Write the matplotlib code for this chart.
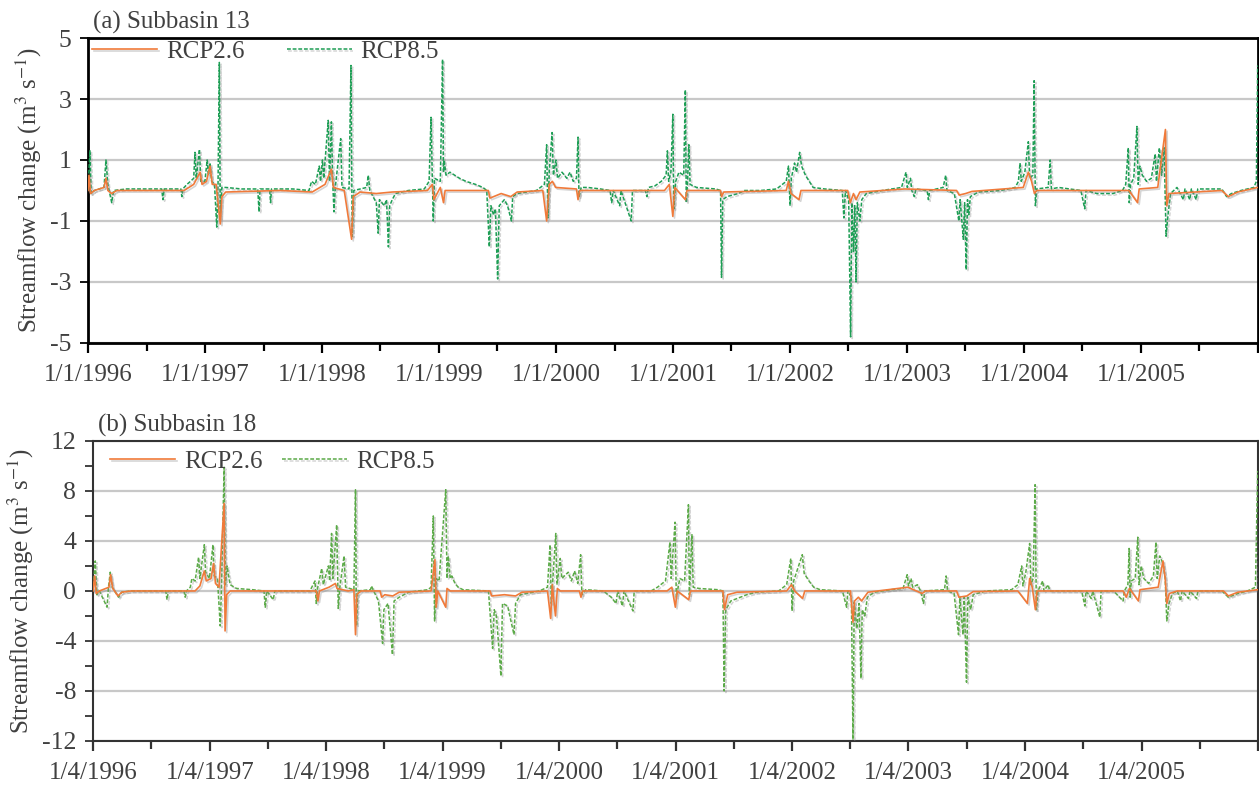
import numpy as np
import matplotlib
matplotlib.use("Agg")
import matplotlib.pyplot as plt
import matplotlib.patheffects as pe
from matplotlib.ticker import MultipleLocator

# daily streamflow change, (day since start, m3/s) key points per scenario
# (a) Subbasin 13
a_rcp26 = [(0, 0.0), (3, 0.5), (8, -0.1), (20, 0.0), (50, 0.1), (56, 0.4), (62, 0.0), (74, -0.1),
           (90, 0.0), (300, 0.0), (330, 0.2), (350, 0.6), (356, 0.2), (370, 0.3), (381, 0.8),
           (388, 0.2), (400, 0.2), (413, -1.1), (418, -0.2), (430, -0.05), (600, 0.0), (700, -0.05),
           (740, 0.2), (760, 0.7), (766, 0.1), (800, 0.0), (823, -1.6), (828, -0.2), (850, -0.05),
           (900, -0.1), (950, -0.05), (1060, 0.0), (1075, 0.2), (1080, -0.3), (1100, 0.1),
           (1110, -0.4), (1115, 0.0), (1250, 0.0), (1255, -0.25), (1290, -0.1), (1320, -0.2),
           (1340, -0.05), (1420, 0.0), (1432, -1.0), (1440, 0.2), (1450, 0.3), (1460, 0.1),
           (1525, 0.05), (1530, -0.3), (1535, 0.0), (1800, 0.0), (1815, 0.2), (1826, -0.85),
           (1832, 0.1), (1865, -0.3), (1870, 0.0), (1975, 0.0), (1978, -0.2), (1985, -0.05),
           (2180, 0.0), (2187, 0.3), (2195, -0.1), (2220, -0.3), (2226, 0.0), (2372, 0.0),
           (2380, -0.4), (2390, -0.1), (2398, -0.3), (2410, -0.05), (2550, 0.05), (2712, 0.0),
           (2720, -0.15), (2740, -0.1), (2760, -0.03), (2920, 0.1), (2936, 0.6), (2946, 0.3),
           (2955, -0.1), (2962, 0.0), (3250, 0.0), (3277, -0.4), (3282, 0.05), (3340, 0.1),
           (3364, 2.0), (3368, -0.5), (3375, -0.1), (3540, 0.0), (3560, -0.2), (3590, -0.05),
           (3652, 0.1)]

a_rcp85 = [(0, 0.0), (6, 1.3), (10, -0.1), (20, 0.0), (50, 0.1), (56, 1.0), (62, 0.2), (74, -0.4),
           (80, 0.0), (120, 0.05), (180, 0.05), (230, 0.05), (234, -0.3), (238, 0.05), (290, 0.05),
           (293, -0.2), (296, 0.05), (309, 0.2), (320, 0.3), (330, 0.4), (334, 1.25), (338, 0.4),
           (348, 1.35), (352, 0.3), (365, 0.3), (372, 1.0), (376, 0.5), (381, 0.9), (386, 0.3),
           (395, 0.2), (402, -1.2), (406, 0.2), (410, 4.2), (413, -0.9), (418, 0.1), (430, 0.1),
           (480, 0.05), (530, 0.05), (534, -0.7), (537, 0.05), (567, 0.05), (570, -0.4), (573, 0.05),
           (640, 0.05), (690, 0.0), (698, 0.3), (710, 0.2), (722, 0.8), (726, 0.3), (732, 1.0),
           (736, 0.4), (750, 2.3), (754, 0.3), (760, 2.25), (764, 0.3), (768, -0.7), (772, 0.1),
           (789, 1.7), (793, 0.1), (815, 0.05), (821, 4.1), (825, -1.5), (830, 0.0), (870, 0.1),
           (875, 0.5), (880, 0.0), (890, -0.2), (900, -0.4), (906, -1.4), (910, -0.3), (925, -0.5),
           (932, -0.3), (938, -1.85), (942, -0.5), (950, -0.3), (960, -0.1), (1000, 0.0),
           (1050, 0.05), (1065, 0.3), (1071, 2.4), (1075, 0.5), (1078, -1.0), (1082, 0.4),
           (1100, 0.3), (1107, 4.3), (1110, 0.6), (1112, 1.0), (1118, 0.5), (1130, 0.6),
           (1145, 0.5), (1160, 0.4), (1180, 0.3), (1210, 0.2), (1233, 0.1), (1245, 0.0),
           (1253, -1.85), (1258, -0.5), (1266, -0.8), (1272, -0.6), (1279, -2.9), (1284, -0.5),
           (1300, -0.3), (1310, -0.5), (1322, -1.0), (1326, -0.2), (1340, -0.1), (1400, 0.0),
           (1425, 0.2), (1432, 1.5), (1436, -0.9), (1440, 0.6), (1449, 1.9), (1453, 0.5),
           (1461, 1.0), (1466, 0.4), (1480, 0.6), (1495, 0.4), (1505, 0.6), (1515, 0.3),
           (1525, 0.4), (1530, 1.75), (1533, -0.2), (1540, 0.1), (1560, 0.1), (1600, 0.05),
           (1630, 0.0), (1635, -0.4), (1640, 0.0), (1660, -0.5), (1664, 0.0), (1696, -1.0),
           (1700, 0.0), (1740, 0.0), (1745, -0.2), (1750, 0.1), (1770, 0.15), (1790, 0.3),
           (1805, 0.5), (1809, 1.3), (1813, 0.3), (1820, 0.6), (1826, 2.5), (1829, -0.6),
           (1835, 0.3), (1845, 0.6), (1860, 0.5), (1865, 3.3), (1868, -0.4), (1872, 0.3),
           (1876, 1.5), (1880, 0.2), (1900, 0.1), (1960, 0.05), (1975, 0.0), (1978, -2.85),
           (1982, -0.3), (1995, -0.2), (2030, -0.1), (2050, 0.0), (2100, 0.0), (2150, 0.05),
           (2180, 0.3), (2187, 0.8), (2192, -0.5), (2196, 0.4), (2206, 0.9), (2212, 0.6),
           (2222, 1.25), (2228, 0.8), (2240, 0.5), (2252, 0.3), (2264, 0.1), (2300, 0.05),
           (2355, 0.0), (2360, -0.9), (2365, 0.0), (2375, -0.3), (2381, -4.8), (2385, -0.4),
           (2390, -2.0), (2394, -0.5), (2398, -3.0), (2402, -0.4), (2410, -1.0), (2416, -0.3),
           (2430, -0.1), (2480, 0.0), (2540, 0.1), (2554, 0.6), (2558, 0.1), (2568, 0.4),
           (2572, 0.0), (2580, -0.2), (2585, 0.05), (2620, 0.0), (2624, -0.3), (2628, 0.0),
           (2670, 0.1), (2678, 0.5), (2682, 0.0), (2705, -0.1), (2719, -1.0), (2723, -0.3),
           (2733, -1.6), (2737, -0.4), (2742, -2.6), (2746, -0.3), (2750, -0.8), (2755, -0.2),
           (2780, -0.05), (2850, 0.0), (2895, 0.1), (2905, 0.3), (2910, 0.9), (2914, 0.3),
           (2925, 0.6), (2936, 1.6), (2940, 0.4), (2950, 0.5), (2954, 3.6), (2958, -0.5),
           (2962, 0.05), (2998, 0.1), (3004, 1.0), (3008, 0.05), (3030, 0.1), (3100, 0.0),
           (3112, -0.6), (3116, 0.0), (3150, -0.1), (3200, -0.1), (3230, 0.0), (3240, 0.2),
           (3248, 1.4), (3251, -0.4), (3255, 0.2), (3265, 0.4), (3275, 2.1), (3279, 0.2),
           (3284, 0.8), (3292, 0.5), (3305, 0.3), (3320, 0.4), (3332, 1.2), (3336, 0.3),
           (3345, 1.4), (3352, 0.5), (3360, 1.4), (3366, -1.5), (3372, -0.8), (3380, -0.1),
           (3400, 0.1), (3420, -0.3), (3425, 0.05), (3440, -0.3), (3445, 0.05), (3460, -0.3),
           (3465, 0.05), (3540, 0.05), (3555, -0.2), (3570, -0.1), (3600, 0.0), (3640, 0.1),
           (3648, 0.3), (3652, 4.1)]

# (b) Subbasin 18
b_rcp26 = [(0, 0.0), (5, 1.2), (10, -0.2), (20, 0.0), (50, 0.3), (55, 1.3), (62, 0.2), (78, -0.4),
           (90, -0.1), (120, 0.0), (320, 0.0), (335, 0.4), (349, 1.6), (355, 0.8), (370, 1.0),
           (378, 2.2), (384, 0.6), (395, 0.3), (411, 7.0), (414, -3.2), (419, -0.3), (430, 0.0),
           (700, 0.0), (705, -0.8), (710, 0.0), (740, 0.3), (760, 0.6), (765, 0.2), (800, 0.0),
           (818, 0.1), (823, -3.5), (827, -0.3), (840, 0.0), (900, 0.0), (905, -0.5), (915, -0.3),
           (940, -0.4), (960, -0.1), (1060, 0.0), (1072, 2.5), (1076, -1.3), (1081, 0.0),
           (1106, -1.3), (1110, 0.2), (1120, 0.0), (1245, 0.0), (1250, -0.4), (1290, -0.3),
           (1325, -0.4), (1345, -0.1), (1425, 0.0), (1435, -2.2), (1440, 0.5), (1450, -2.0),
           (1456, 0.2), (1465, 0.0), (1525, 0.0), (1530, -0.5), (1535, 0.0), (1800, 0.0),
           (1815, 0.3), (1826, -1.3), (1832, 0.0), (1868, -0.7), (1873, 0.0), (1975, 0.0),
           (1980, -1.5), (1990, -0.3), (2020, -0.1), (2175, 0.0), (2190, 0.5), (2200, 0.0),
           (2225, -0.6), (2232, 0.0), (2375, 0.0), (2383, -2.5), (2388, -0.8), (2400, -0.5),
           (2410, -0.8), (2430, -0.1), (2555, 0.3), (2600, -0.2), (2610, 0.0), (2708, 0.0),
           (2715, -0.5), (2740, -0.4), (2760, -0.05), (2900, 0.0), (2930, -1.0), (2937, 1.0),
           (2945, 0.3), (2955, -1.5), (2960, 0.0), (3230, 0.0), (3240, -0.5), (3250, 0.2),
           (3278, -0.8), (3283, 0.1), (3340, 0.3), (3355, 2.4), (3362, 1.0), (3367, -1.0),
           (3375, -0.2), (3400, 0.0), (3545, 0.0), (3560, -0.4), (3590, -0.1), (3652, 0.1)]

b_rcp85 = [(0, 0.0), (7, 2.4), (12, -0.3), (20, 0.0), (44, -1.3), (48, 0.2), (54, 1.5), (60, 0.3),
           (80, -0.5), (90, -0.1), (120, 0.0), (228, 0.0), (232, -0.7), (236, 0.0), (285, 0.0),
           (289, -0.5), (293, 0.0), (305, 0.3), (310, 1.0), (320, 0.8), (331, 2.7), (335, 1.0),
           (349, 3.7), (353, 1.5), (365, 1.0), (376, 3.7), (380, 1.2), (390, 1.0), (399, -2.8),
           (403, 0.5), (411, 9.9), (415, 0.5), (420, 2.0), (430, 0.5), (450, 0.2), (500, 0.1),
           (536, 0.0), (540, -1.3), (545, 0.0), (565, -0.7), (570, 0.0), (680, 0.0), (696, 0.8),
           (700, -1.0), (704, 0.2), (717, 1.8), (722, 0.5), (738, 2.0), (742, 0.8), (748, 4.6),
           (752, 1.0), (764, 5.3), (769, -1.4), (774, 0.3), (787, 2.8), (792, 0.3), (818, 0.1),
           (823, 8.1), (826, -2.8), (830, 0.0), (870, 0.1), (873, 0.4), (880, 0.0), (895, -0.8),
           (908, -4.2), (912, -1.5), (925, -1.0), (939, -5.1), (944, -0.8), (960, -0.5),
           (990, -0.1), (1050, 0.1), (1060, 0.3), (1067, 6.0), (1071, -2.4), (1076, 1.0),
           (1085, 0.8), (1106, 8.1), (1110, 1.0), (1114, 2.8), (1120, 1.0), (1125, 1.2),
           (1135, 0.6), (1145, 0.3), (1160, 0.1), (1240, 0.0), (1253, -4.6), (1258, -1.5),
           (1265, -2.0), (1279, -6.8), (1284, -1.0), (1300, -1.2), (1320, -3.5), (1325, -1.0),
           (1340, -0.3), (1400, 0.0), (1425, 0.3), (1433, 3.7), (1437, -1.0), (1451, 4.6),
           (1455, 0.5), (1465, 2.6), (1470, 1.0), (1490, 1.5), (1500, 0.8), (1510, 1.6),
           (1520, 0.6), (1529, 2.9), (1533, -0.3), (1545, 0.1), (1600, 0.0), (1625, -0.5),
           (1640, -1.0), (1645, 0.0), (1660, -1.2), (1665, 0.0), (1693, -1.6), (1697, 0.0),
           (1750, 0.0), (1770, 0.3), (1795, 0.8), (1809, 3.9), (1813, 1.0), (1825, 5.5),
           (1829, -0.5), (1840, 1.0), (1855, 0.8), (1867, 6.9), (1870, -0.3), (1878, 4.5),
           (1882, 0.3), (1900, 0.2), (1960, 0.1), (1975, 0.0), (1979, -8.0), (1984, -1.5),
           (2000, -0.8), (2030, -0.5), (2050, -0.3), (2080, -0.1), (2150, 0.0), (2175, 0.5),
           (2188, 2.6), (2192, -1.6), (2197, 0.8), (2210, 1.8), (2224, 2.9), (2230, 1.4),
           (2245, 0.8), (2260, 0.3), (2280, 0.1), (2350, 0.0), (2363, -1.3), (2367, 0.0),
           (2378, -0.5), (2383, -11.9), (2387, -0.9), (2395, -3.0), (2402, -1.0), (2408, -7.0),
           (2412, -1.5), (2420, -2.0), (2428, -0.5), (2450, -0.1), (2500, 0.1), (2540, 0.2),
           (2553, 1.3), (2557, 0.4), (2565, 1.0), (2570, 0.3), (2585, 0.5), (2595, 0.0),
           (2604, -1.0), (2608, 0.0), (2670, 0.1), (2675, 1.2), (2680, 0.0), (2700, -0.2),
           (2714, -3.5), (2718, -0.5), (2728, -3.5), (2732, -0.5), (2739, -7.3), (2743, -0.5),
           (2752, -1.5), (2760, -0.3), (2800, 0.0), (2880, 0.1), (2900, 0.5), (2912, 2.0),
           (2916, 0.4), (2925, 1.5), (2937, 3.8), (2941, 0.5), (2948, 1.0), (2954, 8.5),
           (2958, -1.5), (2963, 0.0), (2978, 0.8), (2982, 0.0), (2995, 0.5), (3000, 0.0),
           (3100, 0.0), (3110, -1.2), (3114, 0.0), (3130, -0.6), (3135, 0.0), (3157, -2.1),
           (3161, 0.0), (3200, 0.0), (3230, -0.8), (3234, 0.0), (3245, 0.5), (3249, 3.4),
           (3252, -0.5), (3256, 0.8), (3268, 1.0), (3276, 4.3), (3280, 0.5), (3287, 2.0),
           (3295, 1.0), (3310, 0.6), (3325, 1.2), (3333, 3.9), (3337, 1.0), (3345, 2.8),
           (3355, 2.2), (3362, 1.0), (3367, -2.4), (3374, -1.0), (3385, -0.2), (3400, 0.0),
           (3410, -0.8), (3415, 0.0), (3435, -0.6), (3440, 0.0), (3460, -0.6), (3465, 0.0),
           (3540, 0.0), (3560, -0.5), (3590, -0.2), (3620, 0.0), (3645, 0.3), (3652, 9.6)]

start = np.datetime64("1996-01-01")
end = np.datetime64("2006-01-01")
years = np.arange(1996, 2007)

orange = "#F07A3A"
green_a = "#1E9E55"
green_b = "#5BAA48"
txt = "#404040"

plt.rcParams["font.family"] = ["Liberation Serif", "DejaVu Serif"]
plt.rcParams["mathtext.fontset"] = "stix"
plt.rcParams["axes.unicode_minus"] = False

shadow = [pe.SimpleLineShadow(offset=(1.2, -1.2), shadow_color="#888888", alpha=0.35), pe.Normal()]


def to_xy(series):
    d = np.array([p[0] for p in series])
    v = np.array([p[1] for p in series])
    return start + d.astype("timedelta64[D]"), v


fig = plt.figure(figsize=(12.59, 7.87), dpi=100)
ax_a = fig.add_axes([0.0699, 0.5642, 0.9293, 0.3875])
ax_b = fig.add_axes([0.0739, 0.0585, 0.9253, 0.3812])

panels = [
    (ax_a, a_rcp26, a_rcp85, green_a, (-5, 5), np.arange(-5, 6, 2), None, "1/1/",
     "(a) Subbasin 13", 2.0, "black"),
    (ax_b, b_rcp26, b_rcp85, green_b, (-12, 12), np.arange(-12, 13, 4), 2, "1/4/",
     "(b) Subbasin 18", 1.5, "#333333"),
]

for ax, s26, s85, gcol, ylim, yticks, yminor, prefix, title, spw, spc in panels:
    x85, y85 = to_xy(s85)
    x26, y26 = to_xy(s26)
    ax.plot(x85, y85, color=gcol, lw=1.1, ls=(0, (2.5, 1.2)), label="RCP8.5",
            path_effects=shadow, zorder=3)
    ax.plot(x26, y26, color=orange, lw=1.2, label="RCP2.6", path_effects=shadow, zorder=4)

    ax.set_xlim(start, end)
    ax.set_ylim(*ylim)
    ax.set_yticks(yticks)
    if yminor:
        ax.yaxis.set_minor_locator(MultipleLocator(yminor))
    ax.grid(axis="y", color="#c8c8c8", lw=1.6, zorder=0)
    ax.set_axisbelow(True)

    ticks = [np.datetime64(f"{y}-01-01") for y in years]
    ax.set_xticks(ticks)
    ax.set_xticklabels([f"{prefix}{y}" for y in years[:-1]] + [""])
    ax.set_xticks([np.datetime64(f"{y}-07-02") for y in years[:-1]], minor=True)

    ax.tick_params(axis="x", which="major", length=7, width=1.6, direction="out", pad=8,
                   labelsize=18, labelcolor=txt, color=spc)
    ax.tick_params(axis="x", which="minor", length=6, width=1.6, direction="out", color=spc)
    ax.tick_params(axis="y", which="both", length=6, width=1.3, direction="out", pad=6,
                   labelsize=18.5, labelcolor=txt, color=spc)

    for sp in ax.spines.values():
        sp.set_linewidth(spw)
        sp.set_color(spc)

    ax.set_ylabel("Streamflow change (m$^3$ s$^{-1}$)", fontsize=18, color=txt, labelpad=4)
    ax.text(0.004, 1.012, title, transform=ax.transAxes, fontsize=18, color=txt,
            ha="left", va="bottom")

leg_kw = dict(loc="upper left", ncol=2, frameon=False, fontsize=18, handlelength=2.6,
              handletextpad=0.35, borderpad=0, borderaxespad=0, labelcolor=txt)
ax_a.legend(handles=[ax_a.lines[1], ax_a.lines[0]], bbox_to_anchor=(0.0034, 0.993),
            columnspacing=1.7, **leg_kw)
ax_b.legend(handles=[ax_b.lines[1], ax_b.lines[0]], bbox_to_anchor=(0.0146, 0.968),
            columnspacing=0.8, **leg_kw)

fig.savefig("out.png", dpi=100)
